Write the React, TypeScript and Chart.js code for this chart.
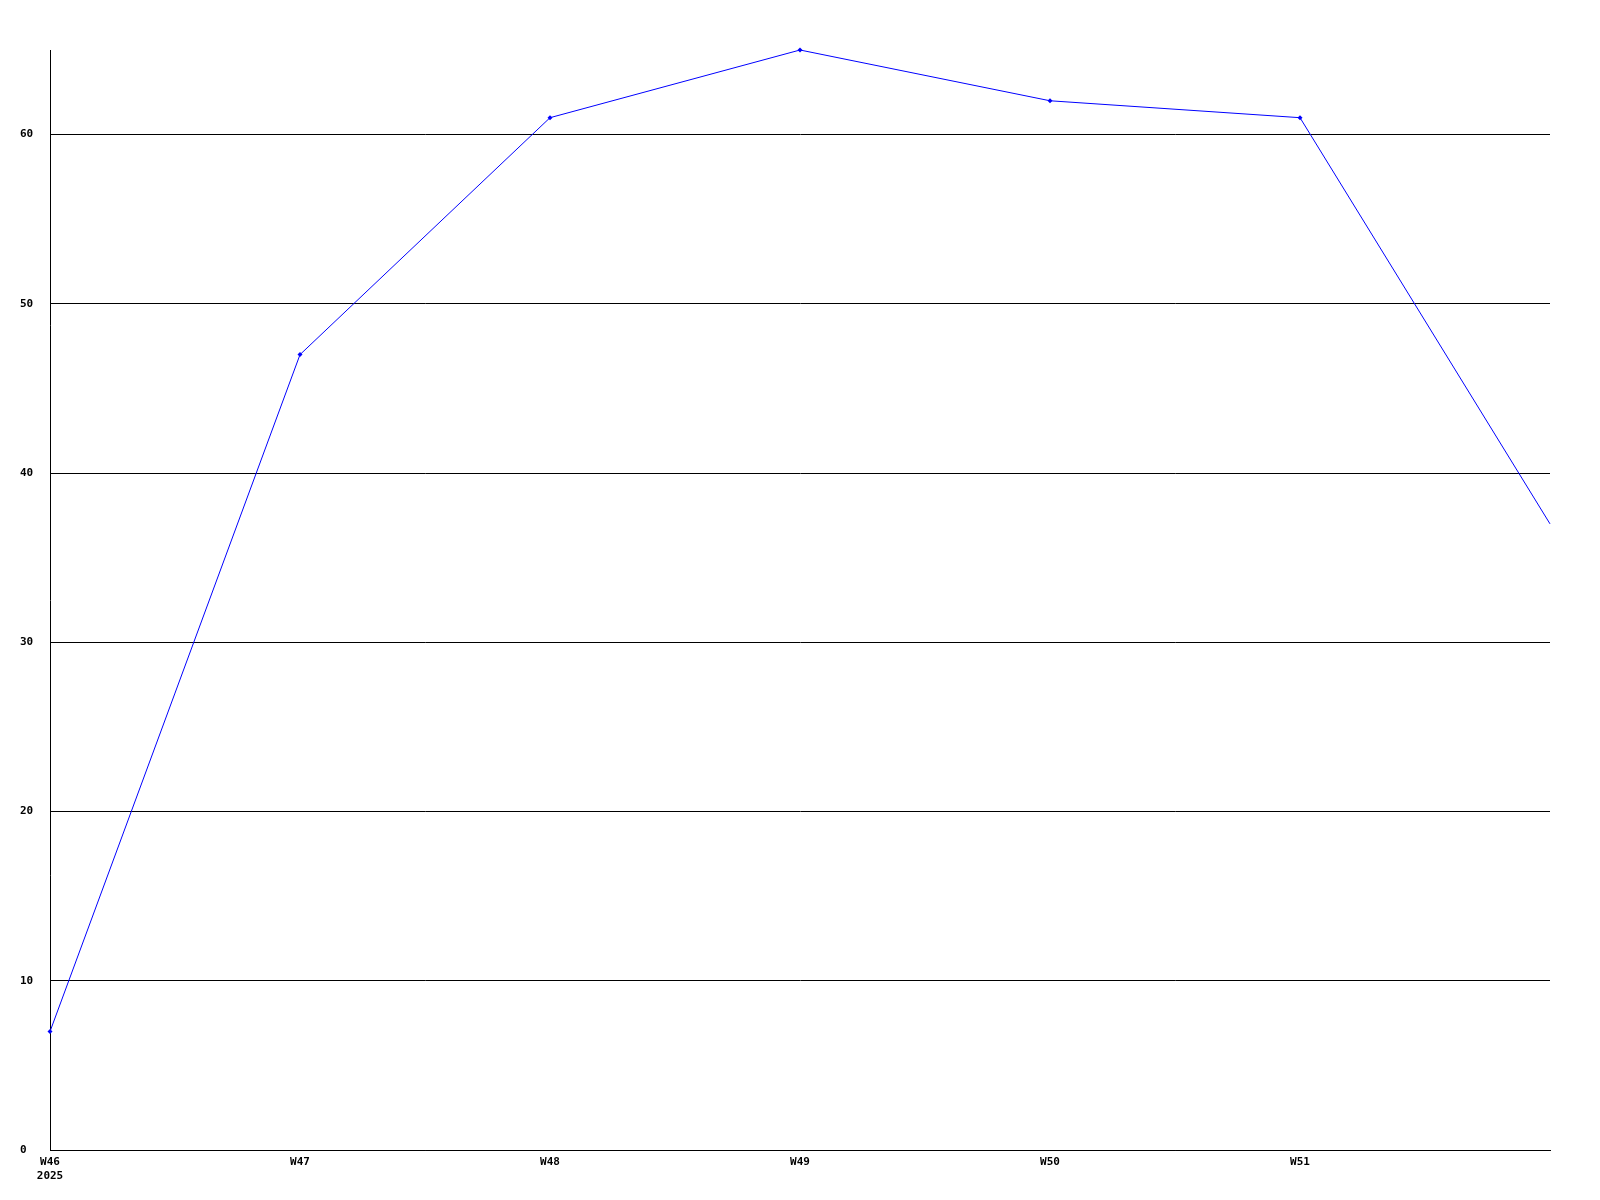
import React, { useEffect, useRef } from "react";
import { Chart, registerables } from "chart.js";

Chart.register(...registerables);

const weeks = ["W46", "W47", "W48", "W49", "W50", "W51", "W52"];
const firstLabelYear = "2025";
const values = [7, 47, 61, 65, 62, 61, 37];
const yTicks = [0, 10, 20, 30, 40, 50, 60];
const yMax = 65;

export default function App() {
  const ref = useRef<HTMLCanvasElement | null>(null);
  useEffect(() => {
    if (!ref.current) return;
    const font = { family: "'DejaVu Sans Mono', monospace", size: 11, weight: "bold" as const };
    const last = values.length - 1;
    const chart = new Chart(ref.current, {
      type: "line",
      data: {
        labels: weeks,
        datasets: [
          {
            data: values,
            borderColor: "#0000ff",
            backgroundColor: "#0000ff",
            borderWidth: 1,
            pointRadius: values.map((_, i) => (i === last ? 0 : 2.5)),
            pointStyle: "rectRot",
            pointBorderWidth: 0,
            tension: 0,
            fill: false,
            clip: false,
          },
        ],
      },
      options: {
        animation: false,
        responsive: false,
        maintainAspectRatio: false,
        layout: { padding: { left: 12, top: 42, right: 42, bottom: 2 } },
        plugins: { legend: { display: false }, tooltip: { enabled: false } },
        scales: {
          x: {
            offset: false,
            grid: { display: false, drawTicks: false },
            border: { display: true, color: "#000000", width: 1 },
            afterFit: (s: any) => {
              s.height = 40;
            },
            ticks: {
              autoSkip: false,
              maxRotation: 0,
              minRotation: 0,
              padding: 6,
              color: "#000000",
              font,
              callback: (_v: any, i: number) =>
                i === 0 ? [weeks[0], firstLabelYear] : i === last ? "" : weeks[i],
            },
          },
          y: {
            min: 0,
            max: yMax,
            afterBuildTicks: (s: any) => {
              s.ticks = yTicks.map((v) => ({ value: v }));
            },
            afterFit: (s: any) => {
              s.width = 30;
            },
            grid: { color: "#000000", lineWidth: 1, drawTicks: false },
            border: { display: true, color: "#000000", width: 1 },
            ticks: {
              crossAlign: "far",
              padding: 0,
              color: "#000000",
              font,
              callback: (v: any) => String(v),
            },
          },
        },
      },
    });
    return () => chart.destroy();
  }, []);
  return (
    <div style={{ width: 1584, height: 1184, background: "#ffffff" }}>
      <canvas ref={ref} width={1584} height={1184} style={{ display: "block" }} />
    </div>
  );
}
